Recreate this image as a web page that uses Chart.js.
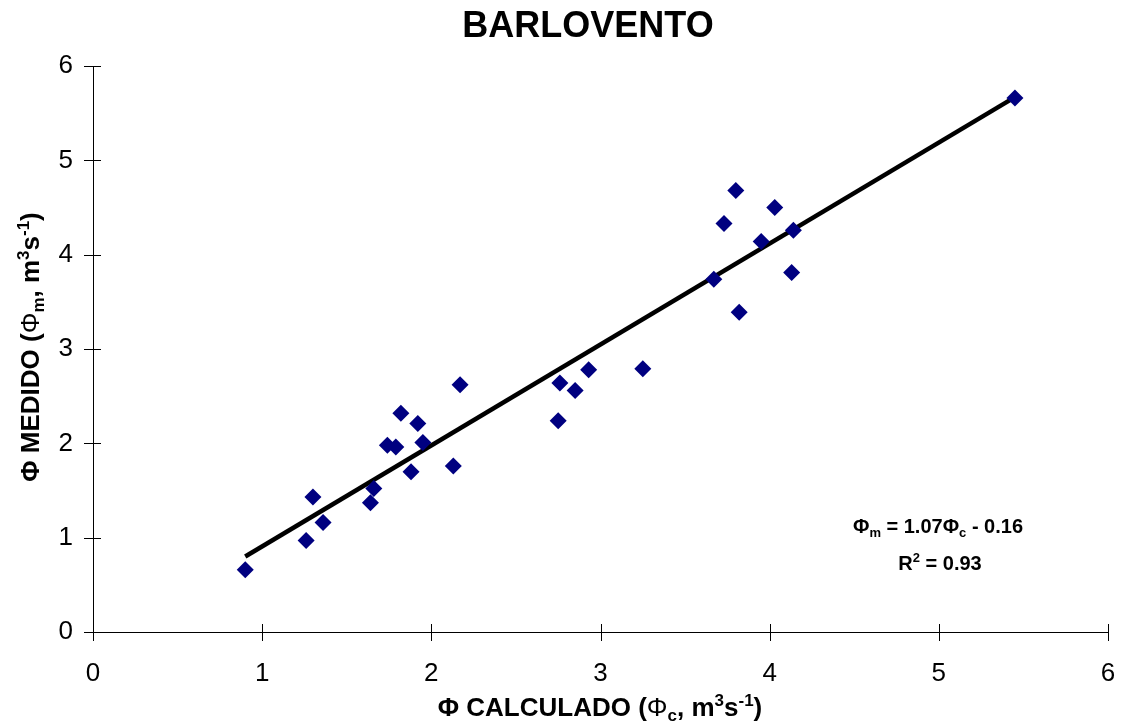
<!DOCTYPE html>
<html>
<head>
<meta charset="utf-8">
<script src="https://cdn.jsdelivr.net/npm/chart.js@4.4.1/dist/chart.umd.min.js"></script>
<style>
  html, body { margin: 0; padding: 0; background: #fff; }
  #wrap { width: 1125px; height: 726px; position: relative; }
</style>
</head>
<body>
<div id="wrap"><canvas id="c" width="1125" height="726"></canvas></div>
<script>
// data
const phiCalc = [0.90, 1.26, 1.30, 1.36, 1.64, 1.66, 1.74, 1.79, 1.82, 1.88, 1.92, 1.95, 2.13, 2.17,
                 2.75, 2.76, 2.85, 2.93, 3.25, 3.67, 3.73, 3.82, 3.80, 3.95, 4.03, 4.13, 4.14, 5.45];
const phiMed  = [0.66, 0.97, 1.43, 1.16, 1.37, 1.52, 1.98, 1.96, 2.32, 1.70, 2.21, 2.01, 1.76, 2.62,
                 2.24, 2.64, 2.56, 2.78, 2.79, 3.74, 4.33, 3.39, 4.68, 4.14, 4.50, 3.81, 4.26, 5.66];
const trendX = [0.90, 5.45];
const trendY = [0.80, 5.67];
const xTicks = [0, 1, 2, 3, 4, 5, 6];
const yTicks = [0, 1, 2, 3, 4, 5, 6];

const FONT = 'Arial, "Liberation Sans", sans-serif';

// draw text made of pieces (sub/superscripts), centred on x
function richText(ctx, x, y, parts) {
  let w = 0;
  parts.forEach(p => { ctx.font = p.f; w += ctx.measureText(p.t).width; });
  let cx = x - w / 2;
  ctx.textBaseline = 'alphabetic';
  ctx.textAlign = 'left';
  parts.forEach(p => {
    ctx.font = p.f;
    ctx.fillText(p.t, cx, y + (p.dy || 0));
    cx += ctx.measureText(p.t).width;
  });
}

const decor = {
  id: 'decor',
  afterDraw(chart) {
    const ctx = chart.ctx;
    const xs = chart.scales.x, ys = chart.scales.y;
    ctx.save();
    ctx.fillStyle = '#000';
    ctx.strokeStyle = '#000';
    ctx.lineWidth = 1;
    // crossing tick marks
    ctx.beginPath();
    xTicks.forEach(v => {
      const px = Math.round(xs.getPixelForValue(v)) + 0.5;
      ctx.moveTo(px, ys.bottom - 8); ctx.lineTo(px, ys.bottom + 9);
    });
    yTicks.forEach(v => {
      const py = Math.round(ys.getPixelForValue(v)) + 0.5;
      ctx.moveTo(xs.left - 9, py); ctx.lineTo(xs.left + 8, py);
    });
    ctx.stroke();

    // title
    ctx.font = 'bold 36px ' + FONT;
    ctx.textAlign = 'center';
    ctx.textBaseline = 'alphabetic';
    ctx.fillText('BARLOVENTO', 588, 37);

    const B = 'bold 26px ' + FONT, Bs = 'bold 17px ' + FONT, N = '26px ' + FONT;
    // x axis title
    richText(ctx, 600, 716, [
      { t: 'Φ CALCULADO (', f: B }, { t: 'Φ', f: N }, { t: 'c', f: Bs, dy: 5 },
      { t: ', m', f: B }, { t: '3', f: Bs, dy: -10 }, { t: 's', f: B }, { t: '-1', f: Bs, dy: -10 }, { t: ')', f: B }
    ]);
    // y axis title
    ctx.save();
    ctx.translate(39, 347);
    ctx.rotate(-Math.PI / 2);
    richText(ctx, 0, 0, [
      { t: 'Φ MEDIDO (', f: B }, { t: 'Φ', f: N }, { t: 'm', f: Bs, dy: 5 },
      { t: ', m', f: B }, { t: '3', f: Bs, dy: -10 }, { t: 's', f: B }, { t: '-1', f: Bs, dy: -10 }, { t: ')', f: B }
    ]);
    ctx.restore();

    // regression note
    const A = 'bold 20px ' + FONT, As = 'bold 13px ' + FONT;
    richText(ctx, 938, 533, [
      { t: 'Φ', f: A }, { t: 'm', f: As, dy: 4 }, { t: ' = 1.07Φ', f: A }, { t: 'c', f: As, dy: 4 }, { t: ' - 0.16', f: A }
    ]);
    richText(ctx, 940, 570, [
      { t: 'R', f: A }, { t: '2', f: As, dy: -8 }, { t: ' = 0.93', f: A }
    ]);
    ctx.restore();
  }
};

new Chart(document.getElementById('c'), {
  type: 'scatter',
  data: {
    datasets: [
      {
        type: 'line',
        data: trendX.map((x, i) => ({ x: x, y: trendY[i] })),
        borderColor: '#000', borderWidth: 4.5, pointRadius: 0, fill: false, order: 2
      },
      {
        data: phiCalc.map((x, i) => ({ x: x, y: phiMed[i] })),
        pointStyle: 'rectRot', pointRadius: 8.5, pointHoverRadius: 8.5,
        backgroundColor: '#000080', borderColor: '#000080', borderWidth: 0, order: 1
      }
    ]
  },
  options: {
    responsive: false,
    animation: false,
    layout: { padding: { top: 66, right: 17, left: 0, bottom: 0 } },
    plugins: { legend: { display: false }, tooltip: { enabled: false }, title: { display: false } },
    scales: {
      x: {
        type: 'linear', min: 0, max: 6,
        afterFit: s => { s.height = 94; s.paddingRight = 0; s.paddingLeft = 0; },
        afterBuildTicks: s => { s.ticks = xTicks.map(v => ({ value: v })); },
        ticks: { color: '#000', font: { size: 26, family: FONT }, padding: 26 },
        grid: { drawOnChartArea: false, drawTicks: false },
        border: { color: '#000', width: 1 }
      },
      y: {
        type: 'linear', min: 0, max: 6,
        afterFit: s => { s.width = 93; s.paddingTop = 0; s.paddingBottom = 0; },
        afterBuildTicks: s => { s.ticks = yTicks.map(v => ({ value: v })); },
        ticks: { color: '#000', font: { size: 26, family: FONT }, padding: 20 },
        grid: { drawOnChartArea: false, drawTicks: false },
        border: { color: '#000', width: 1 }
      }
    }
  },
  plugins: [decor]
});
</script>
</body>
</html>
